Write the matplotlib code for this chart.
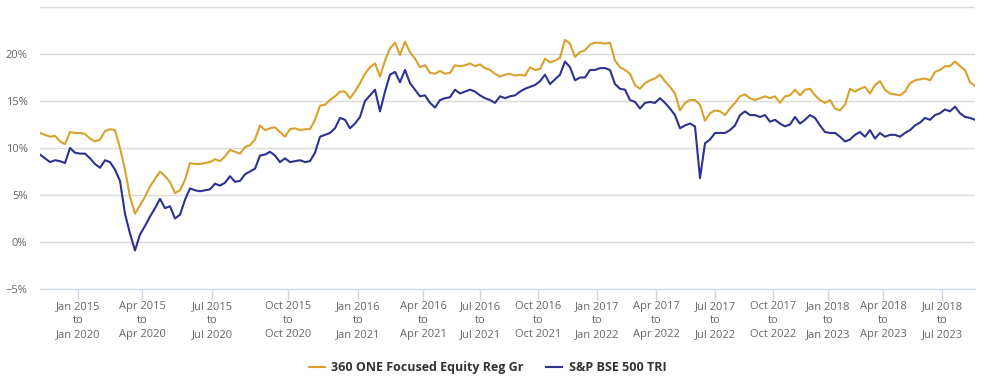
import numpy as np
import matplotlib
matplotlib.use('Agg')
import matplotlib.pyplot as plt

plt.rcParams['font.family'] = ['Open Sans', 'DejaVu Sans']

# rolling 5y returns (%), one value every few trading days
fund = [
    11.6, 11.4, 11.2, 11.3, 10.7, 10.4, 11.7, 11.6, 11.6, 11.5,
    11.0, 10.7, 10.9, 11.8, 12.0, 11.9, 10.0, 7.7, 4.8, 3.0,
    3.9, 4.8, 5.9, 6.7, 7.5, 7.0, 6.4, 5.2, 5.5, 6.6,
    8.4, 8.3, 8.3, 8.4, 8.5, 8.8, 8.6, 9.1, 9.8, 9.6,
    9.4, 10.1, 10.3, 10.9, 12.4, 11.9, 12.1, 12.2, 11.7, 11.2,
    12.0, 12.1, 11.9, 12.0, 12.0, 13.0,
    14.5, 14.6, 15.1, 15.5, 16.0, 16.0, 15.3, 16.0, 16.9, 17.9,
    18.6, 19.0, 17.6, 19.3, 20.6, 21.2, 19.9, 21.3, 20.2, 19.5,
    18.6, 18.8, 18.0, 17.9, 18.2, 17.9, 18.0, 18.8, 18.7, 18.8,
    19.0, 18.7, 18.9, 18.5, 18.3, 17.9, 17.6, 17.8, 17.9, 17.7,
    17.8, 17.7, 18.6, 18.3, 18.4, 19.5, 19.1, 19.3, 19.6, 21.5,
    21.1, 19.7, 20.2, 20.4, 21.0, 21.2, 21.2, 21.1, 21.2, 19.3,
    18.6, 18.3, 17.9, 16.7,
    16.3, 16.9, 17.2, 17.4, 17.8, 17.1, 16.5, 15.8, 14.0, 14.8,
    15.1, 15.1, 14.6, 12.9, 13.7, 14.0, 13.9, 13.5, 14.2, 14.8,
    15.5, 15.7, 15.3, 15.1, 15.3, 15.5, 15.3, 15.5, 14.8, 15.5,
    15.6, 16.2, 15.6, 16.2, 16.3, 15.6, 15.1, 14.8, 15.1, 14.2,
    14.0, 14.6, 16.3, 16.0, 16.3, 16.5, 15.8, 16.7, 17.1, 16.2,
    15.8, 15.7, 15.6, 16.0, 16.9, 17.2, 17.3, 17.4, 17.2, 18.1,
    18.3, 18.7, 18.7, 19.2, 18.7, 18.3, 17.0, 16.6,
]

bench = [
    9.3, 8.9, 8.5, 8.7, 8.6, 8.4, 10.0, 9.5, 9.4, 9.4,
    8.9, 8.3, 7.9, 8.7, 8.5, 7.7, 6.5, 3.0, 0.9, -0.9,
    0.8, 1.7, 2.7, 3.6, 4.6, 3.6, 3.8, 2.5, 2.9, 4.5,
    5.7, 5.5, 5.4, 5.5, 5.6, 6.2, 6.0, 6.3, 7.0, 6.4,
    6.5, 7.2, 7.5, 7.8, 9.2, 9.3, 9.6, 9.2, 8.5, 8.9,
    8.5, 8.6, 8.7, 8.5, 8.6, 9.5,
    11.2, 11.4, 11.6, 12.1, 13.2, 13.0, 12.1, 12.6, 13.3, 15.0,
    15.6, 16.2, 13.9, 16.0, 17.8, 18.1, 17.0, 18.3, 16.9, 16.2,
    15.5, 15.6, 14.8, 14.3, 15.1, 15.3, 15.4, 16.2, 15.8, 16.0,
    16.2, 16.0, 15.6, 15.3, 15.1, 14.8, 15.5, 15.3, 15.5, 15.6,
    16.0, 16.3, 16.5, 16.7, 17.1, 17.8, 16.8, 17.3, 17.8, 19.2,
    18.6, 17.2, 17.5, 17.5, 18.3, 18.3, 18.5, 18.5, 18.3, 16.8,
    16.3, 16.2, 15.1, 14.9,
    14.2, 14.8, 14.9, 14.8, 15.3, 14.8, 14.2, 13.5, 12.1, 12.4,
    12.6, 12.3, 6.8, 10.5, 10.9, 11.6, 11.6, 11.6, 11.9, 12.4,
    13.5, 13.9, 13.5, 13.5, 13.3, 13.5, 12.8, 13.0, 12.6, 12.3,
    12.5, 13.3, 12.6, 13.0, 13.5, 13.2, 12.4, 11.7, 11.6, 11.6,
    11.2, 10.7, 10.9, 11.4, 11.7, 11.2, 11.9, 11.0, 11.6, 11.2,
    11.4, 11.4, 11.2, 11.6, 11.9, 12.4, 12.7, 13.2, 13.0, 13.5,
    13.7, 14.1, 13.9, 14.4, 13.7, 13.3, 13.2, 13.0,
]

tick_pos = [7.6, 20.4, 34.4, 49.6, 63.6, 76.6, 88, 99.6, 111.4, 123.2, 135, 146.6, 157.6, 168.6, 180.4]
tick_labels = ['Jan 2015\nto\nJan 2020', 'Apr 2015\nto\nApr 2020', 'Jul 2015\nto\nJul 2020',
               'Oct 2015\nto\nOct 2020', 'Jan 2016\nto\nJan 2021', 'Apr 2016\nto\nApr 2021',
               'Jul 2016\nto\nJul 2021', 'Oct 2016\nto\nOct 2021', 'Jan 2017\nto\nJan 2022',
               'Apr 2017\nto\nApr 2022', 'Jul 2017\nto\nJul 2022', 'Oct 2017\nto\nOct 2022',
               'Jan 2018\nto\nJan 2023', 'Apr 2018\nto\nApr 2023', 'Jul 2018\nto\nJul 2023']
y_ticks = [-5, 0, 5, 10, 15, 20, 25]
y_labels = ['\u22125%', '0%', '5%', '10%', '15%', '20%', '']

x = np.arange(len(fund))

fig = plt.figure(figsize=(9.81, 3.89), dpi=100)
ax = fig.add_axes([40 / 981, 100 / 389, 935 / 981, 282 / 389])

ax.plot(x, fund, color='#D9A12C', lw=1.5, label='360 ONE Focused Equity Reg Gr', zorder=3)
ax.plot(x, bench, color='#2D3190', lw=1.5, label='S&P BSE 500 TRI', zorder=3)

ax.set_xlim(0, len(fund) - 1)
ax.set_ylim(-5, 25)
ax.set_yticks(y_ticks)
ax.set_yticklabels(y_labels)
ax.set_xticks(tick_pos)
ax.set_xticklabels(tick_labels, linespacing=1.4)

ax.grid(axis='y', color='#dadada', lw=1)
ax.set_axisbelow(True)
for s in ['top', 'right', 'left']:
    ax.spines[s].set_visible(False)
ax.spines['bottom'].set_color('#ccd6eb')
ax.tick_params(axis='y', length=0, pad=9, labelsize=8, labelcolor='#666666')
ax.tick_params(axis='x', length=8, width=1, color='#ccd6eb', pad=0.5, labelsize=8, labelcolor='#666666')

fig.legend(loc='center', bbox_to_anchor=(0.497, 0.054), ncol=2, frameon=False,
           handlelength=1.3, columnspacing=1.8, handletextpad=0.5,
           prop={'weight': 'bold', 'size': 9})
for t in fig.legends[0].get_texts():
    t.set_color('#333333')

fig.savefig('out.png', dpi=100)
